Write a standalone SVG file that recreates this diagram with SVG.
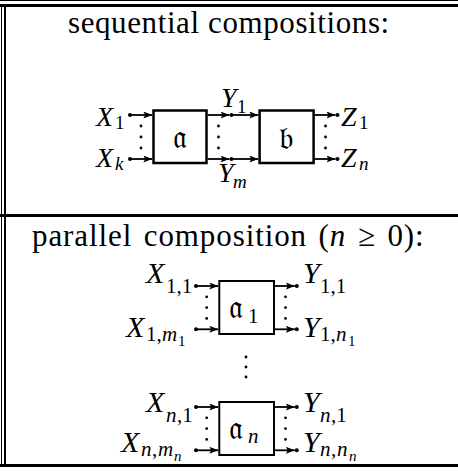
<svg xmlns="http://www.w3.org/2000/svg" width="458" height="471" viewBox="0 0 458 471">
<defs>
<marker id="ah" markerUnits="userSpaceOnUse" markerWidth="10" markerHeight="8" refX="9" refY="3.5" orient="auto">
<path d="M0,0 L9,3.5 L0,7 L2,3.5 z" fill="#000"/>
</marker>
</defs>
<rect width="458" height="471" fill="#fff"/>
<g id="frame" stroke="#000" fill="none">
<line x1="0" y1="0.5" x2="458" y2="0.5" stroke-width="1"/>
<line x1="0" y1="5.5" x2="458" y2="5.5" stroke-width="3"/>
<line x1="0" y1="215.5" x2="458" y2="215.5" stroke-width="3"/>
<line x1="0" y1="465.5" x2="458" y2="465.5" stroke-width="3"/>
<line x1="1.5" y1="7" x2="1.5" y2="464" stroke-width="1"/>
<line x1="5" y1="7" x2="5" y2="464" stroke-width="2"/>
</g>
<g id="titles">
<text font-family="Liberation Serif" font-size="31" letter-spacing="0.6" x="68" y="33.3">sequential compositions:</text>
<text font-family="Liberation Serif" font-size="31" letter-spacing="0.9" word-spacing="3" x="32" y="245.5">parallel composition (<tspan font-style="italic">n</tspan> ≥ 0):</text>
</g>
<g id="connectors" stroke="#000" stroke-width="1.8" fill="none" marker-end="url(#ah)">
<line x1="130" y1="115" x2="152.3" y2="115"/>
<line x1="130" y1="159" x2="152.3" y2="159"/>
<line x1="207.5" y1="115" x2="229.5" y2="115"/>
<line x1="207.5" y1="159" x2="229.5" y2="159"/>
<line x1="231" y1="115" x2="258.3" y2="115"/>
<line x1="231" y1="159" x2="258.3" y2="159"/>
<line x1="314.5" y1="115" x2="335.5" y2="115"/>
<line x1="314.5" y1="159" x2="335.5" y2="159"/>
<line x1="196" y1="286" x2="218.3" y2="286"/>
<line x1="196" y1="329.3" x2="218.3" y2="329.3"/>
<line x1="275" y1="286" x2="294.8" y2="286"/>
<line x1="275" y1="329.3" x2="294.8" y2="329.3"/>
<line x1="196" y1="407" x2="218.3" y2="407"/>
<line x1="196" y1="450.3" x2="218.3" y2="450.3"/>
<line x1="275" y1="407" x2="294.8" y2="407"/>
<line x1="275" y1="450.3" x2="294.8" y2="450.3"/>
</g>
<g id="connector-dots" fill="#000">
<circle cx="130" cy="115" r="2"/><circle cx="130" cy="159" r="2"/>
<circle cx="231.5" cy="115" r="2"/><circle cx="231.5" cy="159" r="2"/>
<circle cx="337.5" cy="115" r="2"/><circle cx="337.5" cy="159" r="2"/>
<circle cx="196" cy="286" r="2"/><circle cx="196" cy="329.3" r="2"/>
<circle cx="296.8" cy="286" r="2"/><circle cx="296.8" cy="329.3" r="2"/>
<circle cx="196" cy="407" r="2"/><circle cx="196" cy="450.3" r="2"/>
<circle cx="296.8" cy="407" r="2"/><circle cx="296.8" cy="450.3" r="2"/>
<circle cx="141" cy="126" r="1.4"/><circle cx="141" cy="137" r="1.4"/><circle cx="141" cy="148" r="1.4"/>
<circle cx="218.5" cy="126" r="1.4"/><circle cx="218.5" cy="137" r="1.4"/><circle cx="218.5" cy="148" r="1.4"/>
<circle cx="325.5" cy="126" r="1.4"/><circle cx="325.5" cy="137" r="1.4"/><circle cx="325.5" cy="148" r="1.4"/>
<circle cx="206.7" cy="296.8" r="1.4"/><circle cx="206.7" cy="307.6" r="1.4"/><circle cx="206.7" cy="318.4" r="1.4"/>
<circle cx="285.5" cy="296.8" r="1.4"/><circle cx="285.5" cy="307.6" r="1.4"/><circle cx="285.5" cy="318.4" r="1.4"/>
<circle cx="206.7" cy="417.8" r="1.4"/><circle cx="206.7" cy="428.6" r="1.4"/><circle cx="206.7" cy="439.4" r="1.4"/>
<circle cx="285.5" cy="417.8" r="1.4"/><circle cx="285.5" cy="428.6" r="1.4"/><circle cx="285.5" cy="439.4" r="1.4"/>
<circle cx="246" cy="357" r="1.4"/><circle cx="246" cy="367" r="1.4"/><circle cx="246" cy="377" r="1.4"/>
</g>
<g id="node-a">
<rect x="153.5" y="110.5" width="53" height="52.5" fill="#fff" stroke="#000" stroke-width="2.5"/>
<text font-family="DejaVu Serif" font-size="32" x="180" y="147.5" text-anchor="middle">𝔞</text>
</g>
<g id="node-b">
<rect x="259.6" y="110.5" width="54" height="52.5" fill="#fff" stroke="#000" stroke-width="2.5"/>
<text font-family="DejaVu Serif" font-size="32" x="286.5" y="148.5" text-anchor="middle">𝔟</text>
</g>
<g id="node-a1">
<rect x="219.3" y="281" width="54.7" height="53" fill="#fff" stroke="#000" stroke-width="2"/>
<text font-family="DejaVu Serif" font-size="32" x="229" y="317.5">𝔞</text>
<text font-family="Liberation Serif" font-size="21" x="248" y="323">1</text>
</g>
<g id="node-an">
<rect x="219.3" y="402" width="54.7" height="53" fill="#fff" stroke="#000" stroke-width="2"/>
<text font-family="DejaVu Serif" font-size="32" x="229" y="438.5">𝔞</text>
<text font-family="Liberation Serif" font-size="21" font-style="italic" x="248" y="443">n</text>
</g>
<g id="labels-seq">
<text font-family="Liberation Serif" font-style="italic" font-size="28" x="96" y="125.5">X<tspan font-style="normal" x="115" y="128.5" font-size="19">1</tspan></text>
<text font-family="Liberation Serif" font-style="italic" font-size="28" x="96" y="166.7">X<tspan x="115" y="170" font-size="19">k</tspan></text>
<text font-family="Liberation Serif" font-style="italic" font-size="28" x="221" y="107">Y<tspan font-style="normal" x="237" y="113" font-size="19">1</tspan></text>
<text font-family="Liberation Serif" font-style="italic" font-size="28" x="218" y="181.7">Y<tspan x="233" y="188" font-size="19">m</tspan></text>
<text font-family="Liberation Serif" font-style="italic" font-size="28" x="341" y="125.7">Z<tspan font-style="normal" x="359" y="129" font-size="19">1</tspan></text>
<text font-family="Liberation Serif" font-style="italic" font-size="28" x="341" y="166.7">Z<tspan x="359" y="170" font-size="19">n</tspan></text>
</g>
<g id="labels-par">
<text font-family="Liberation Serif" font-style="italic" font-size="30" x="146" y="283.3">X<tspan font-style="normal" x="166" y="293" font-size="21">1,1</tspan></text>
<text font-family="Liberation Serif" font-style="italic" font-size="30" x="126" y="336.7">X<tspan font-style="normal" x="146" y="340.5" font-size="21">1,</tspan><tspan x="162" y="340.5" font-size="21">m</tspan><tspan font-style="normal" x="178" y="346" font-size="15">1</tspan></text>
<text font-family="Liberation Serif" font-style="italic" font-size="30" x="303" y="283.3">Y<tspan font-style="normal" x="320" y="293" font-size="21">1,1</tspan></text>
<text font-family="Liberation Serif" font-style="italic" font-size="30" x="303" y="336.7">Y<tspan font-style="normal" x="320" y="340.5" font-size="21">1,</tspan><tspan x="336" y="340.5" font-size="21">n</tspan><tspan font-style="normal" x="348" y="346" font-size="15">1</tspan></text>
<text font-family="Liberation Serif" font-style="italic" font-size="30" x="146" y="411.7">X<tspan x="166" y="421.5" font-size="21">n</tspan><tspan font-style="normal" x="177" y="421.5" font-size="21">,1</tspan></text>
<text font-family="Liberation Serif" font-style="italic" font-size="30" x="121" y="451.7">X<tspan x="141" y="455.5" font-size="21">n</tspan><tspan font-style="normal" x="152" y="455.5" font-size="21">,</tspan><tspan x="158" y="455.5" font-size="21">m</tspan><tspan x="174" y="461" font-size="15">n</tspan></text>
<text font-family="Liberation Serif" font-style="italic" font-size="30" x="303" y="411.7">Y<tspan x="320" y="421.5" font-size="21">n</tspan><tspan font-style="normal" x="331" y="421.5" font-size="21">,1</tspan></text>
<text font-family="Liberation Serif" font-style="italic" font-size="30" x="303" y="451.7">Y<tspan x="320" y="455.5" font-size="21">n</tspan><tspan font-style="normal" x="331" y="455.5" font-size="21">,</tspan><tspan x="337" y="455.5" font-size="21">n</tspan><tspan x="349" y="461" font-size="15">n</tspan></text>
</g>
</svg>
